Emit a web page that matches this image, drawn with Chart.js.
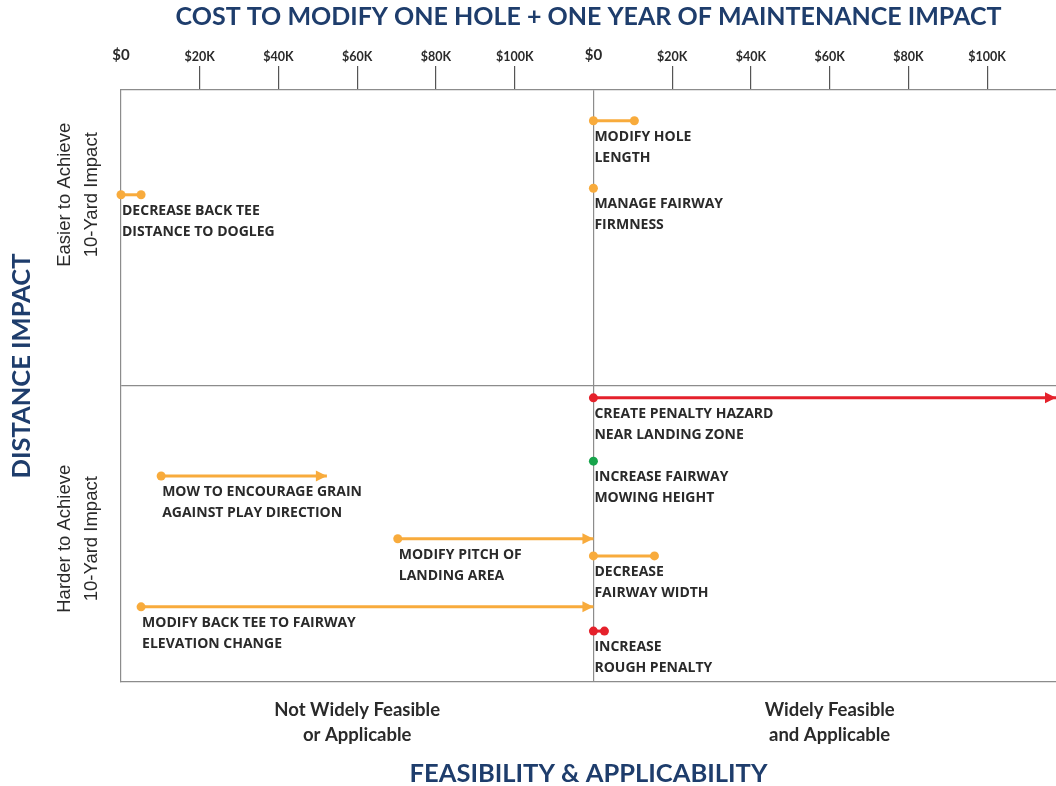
<!DOCTYPE html>
<html>
<head>
<meta charset="utf-8">
<script src="https://cdn.jsdelivr.net/npm/chart.js@4"></script>
<style>
  html, body { margin: 0; padding: 0; background: #fff; }
</style>
</head>
<body>
<canvas id="costChart" width="1056" height="786"></canvas>
<script>
// each action: panel 0 = not widely feasible, 1 = widely feasible; costs in $K
const actions = [
  ['MODIFY HOLE', 'LENGTH'],
  ['MANAGE FAIRWAY', 'FIRMNESS'],
  ['DECREASE BACK TEE', 'DISTANCE TO DOGLEG'],
  ['CREATE PENALTY HAZARD', 'NEAR LANDING ZONE'],
  ['INCREASE FAIRWAY', 'MOWING HEIGHT'],
  ['MOW TO ENCOURAGE GRAIN', 'AGAINST PLAY DIRECTION'],
  ['MODIFY PITCH OF', 'LANDING AREA'],
  ['DECREASE', 'FAIRWAY WIDTH'],
  ['MODIFY BACK TEE TO FAIRWAY', 'ELEVATION CHANGE'],
  ['INCREASE', 'ROUGH PENALTY']
];
const panels     = [1, 1, 0, 1, 1, 0, 0, 1, 0, 1];
const costFrom   = [0, 0, 0, 0, 0, 10.2, 70.3, 0, 5.1, 0];
const costTo     = [10.4, 0, 5.1, 117.5, 0, 52.3, 120, 15.5, 120, 2.8];
const impactRank = [5.2, 16.6, 17.7, 52.0, 62.7, 65.2, 75.8, 78.7, 87.3, 91.4];
const markColors = ['orange', 'orange', 'orange', 'red', 'green', 'orange', 'orange', 'orange', 'orange', 'red'];
const hasArrow   = [false, false, false, true, false, true, true, false, true, false];

const costTicks = [0, 20, 40, 60, 80, 100];
const panelNames = [['Not Widely Feasible', 'or Applicable'], ['Widely Feasible', 'and Applicable']];
const impactNames = [['Easier to Achieve', '10-Yard Impact'], ['Harder to Achieve', '10-Yard Impact']];
const impactNameRank = [17.7, 75.8];

const PANEL_SPAN = 120;
const X_MAX = 237.5;
const palette = { orange: '#f8ab3c', red: '#e5212b', green: '#17a44b' };
const navy = '#1e3d6c';
const ink = '#2a2a2a';
const rule = '#8c8c8c';

const datasets = actions.map((a, i) => {
  const base = panels[i] * PANEL_SPAN;
  const c = palette[markColors[i]];
  const pts = [{ x: base + costFrom[i], y: impactRank[i] }];
  if (costTo[i] !== costFrom[i]) pts.push({ x: base + costTo[i], y: impactRank[i] });
  return {
    label: a.join(' '),
    data: pts,
    borderColor: c,
    backgroundColor: c,
    borderWidth: 3,
    pointRadius: pts.map((p, k) => (k === 1 && hasArrow[i]) ? 0 : 4.5),
    pointBorderWidth: 0,
    showLine: true,
    clip: false
  };
});

const annotate = {
  id: 'annotate',
  afterDatasetsDraw(chart) {
    const { ctx, scales: { x, y } } = chart;
    ctx.save();
    actions.forEach((lines, i) => {
      const base = panels[i] * PANEL_SPAN;
      const x0 = x.getPixelForValue(base + costFrom[i]);
      const x1 = x.getPixelForValue(base + costTo[i]);
      const py = y.getPixelForValue(impactRank[i]);
      if (hasArrow[i]) {
        ctx.fillStyle = palette[markColors[i]];
        ctx.beginPath();
        ctx.moveTo(x1, py);
        ctx.lineTo(x1 - 11, py - 5.5);
        ctx.lineTo(x1 - 11, py + 5.5);
        ctx.closePath();
        ctx.fill();
      }
      ctx.fillStyle = ink;
      ctx.font = 'bold 14px "Open Sans"';
      ctx.textAlign = 'left';
      ctx.textBaseline = 'middle';
      lines.forEach((t, k) => ctx.fillText(t, x0 + 1, py + 16 + k * 21));
    });
    // side labels for the two impact halves, plus the axis name
    ctx.fillStyle = ink;
    ctx.font = '18.5px "Liberation Sans"';
    ctx.textAlign = 'center';
    impactNames.forEach((lines, i) => {
      const py = y.getPixelForValue(impactNameRank[i]);
      lines.forEach((t, k) => {
        ctx.save();
        ctx.translate(65 + k * 27, py);
        ctx.rotate(-Math.PI / 2);
        ctx.fillText(t, 0, 0);
        ctx.restore();
      });
    });
    ctx.save();
    ctx.translate(22, 366);
    ctx.rotate(-Math.PI / 2);
    ctx.fillStyle = navy;
    ctx.font = 'bold 25.5px Lato';
    ctx.fillText('DISTANCE IMPACT', 0, 0);
    ctx.restore();
    ctx.restore();
  }
};

new Chart(document.getElementById('costChart'), {
  type: 'scatter',
  data: { datasets },
  options: {
    responsive: false,
    animation: false,
    layout: { padding: 0, autoPadding: false },
    plugins: { legend: { display: false }, tooltip: { enabled: false } },
    scales: {
      x: {
        type: 'linear',
        position: 'top',
        min: 0,
        max: X_MAX,
        afterBuildTicks: s => {
          s.ticks = [0, 1].flatMap(p => costTicks.map(v => ({ value: p * PANEL_SPAN + v })));
        },
        afterFit: s => { s.height = 90; },
        ticks: {
          autoSkip: false,
          maxRotation: 0,
          padding: 2,
          color: ink,
          font: c => (c.tick && c.tick.value % PANEL_SPAN === 0)
            ? { family: 'Lato', weight: 'bold', size: 15 }
            : { family: 'Lato', weight: 'bold', size: 12.5 },
          callback: v => {
            const k = v % PANEL_SPAN;
            return k === 0 ? '$0' : '$' + k + 'K';
          }
        },
        grid: {
          drawOnChartArea: true,
          tickLength: 24,
          lineWidth: 1.2,
          color: c => (c.tick && c.tick.value === PANEL_SPAN) ? rule : 'transparent',
          tickColor: c => (c.tick && c.tick.value % PANEL_SPAN === 0) ? 'transparent' : '#555'
        },
        border: { color: rule, width: 1.2 },
        title: {
          display: true,
          text: 'COST TO MODIFY ONE HOLE + ONE YEAR OF MAINTENANCE IMPACT',
          color: navy,
          font: { family: 'Lato', weight: 'bold', size: 25 },
          padding: { top: 2, bottom: 0 }
        }
      },
      x2: {
        type: 'linear',
        position: 'bottom',
        min: 0,
        max: X_MAX,
        afterBuildTicks: s => { s.ticks = [{ value: 60 }, { value: 180 }]; },
        afterFit: s => { s.height = 104; },
        ticks: {
          autoSkip: false,
          maxRotation: 0,
          padding: 16,
          color: ink,
          font: { family: 'Lato', weight: 'bold', size: 18.5, lineHeight: 1.35 },
          callback: v => panelNames[v === 60 ? 0 : 1]
        },
        grid: { display: false, drawTicks: false },
        border: { color: rule, width: 1.2 },
        title: {
          display: true,
          text: 'FEASIBILITY & APPLICABILITY',
          color: navy,
          font: { family: 'Lato', weight: 'bold', size: 25.5 },
          padding: { top: 0, bottom: -3 }
        }
      },
      y: {
        type: 'linear',
        reverse: true,
        min: 0,
        max: 100,
        afterBuildTicks: s => { s.ticks = [{ value: 50 }]; },
        afterFit: s => { s.width = 121; },
        ticks: { display: false },
        grid: { drawTicks: false, color: rule, lineWidth: 1.2 },
        border: { color: rule, width: 1.2 },
        title: { display: false }
      }
    }
  },
  plugins: [annotate]
});
</script>
</body>
</html>
